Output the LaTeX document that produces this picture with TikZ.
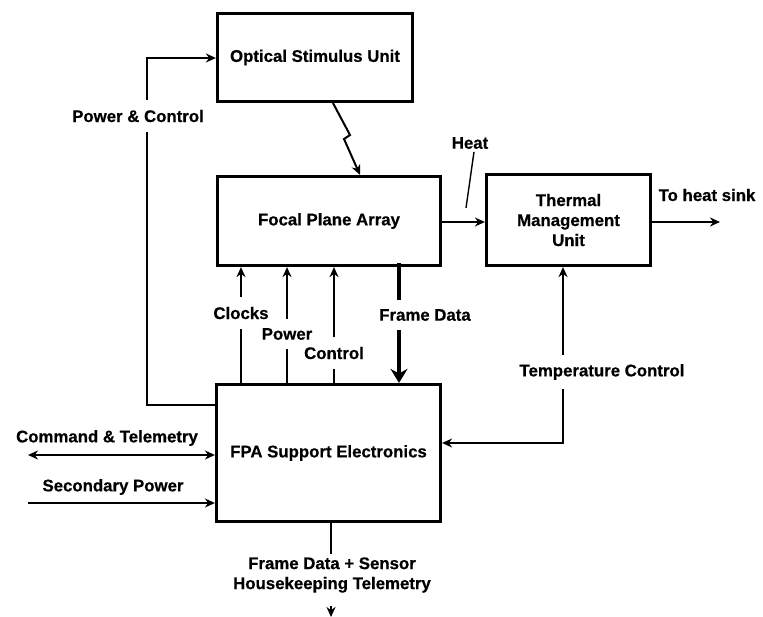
\documentclass[tikz,border=0pt]{standalone}
\usepackage{fontspec}
\setmainfont{Liberation Sans}[BoldFeatures={FakeBold=0.6}]
\usetikzlibrary{arrows.meta, positioning}

\begin{document}
\begin{tikzpicture}[->, >={Stealth[length=10pt,width=9pt]}, x=1pt, y=-1pt, line width=2pt,
    font=\fontsize{16.8}{20}\selectfont\bfseries,
    unit/.style={draw, -, line width=3.2pt, align=center},
    lbl/.style={inner xsep=2pt, inner ysep=8.5pt},
    data/.style={line width=4.5pt, -{Stealth[length=14pt,width=17pt]}}]
    \useasboundingbox (0,0) rectangle (763,617);
    % blocks
    \node[unit, minimum width=195pt, minimum height=88pt] (osu) at (315,57.5) {Optical Stimulus Unit};
    \node[unit, minimum width=223pt, minimum height=89pt] (fpa) at (329,221) {Focal Plane Array};
    \node[unit, minimum width=164pt, minimum height=91pt] (tmu) at (568.5,220) {Thermal\\Management\\Unit};
    \node[unit, minimum width=224pt, minimum height=137pt] (fse) at (328.5,453) {FPA Support Electronics};
    % labels
    \node[lbl] (pc) at (138,116) {Power \& Control};
    \node[lbl] (clk) at (241,313) {Clocks};
    \node[lbl] (pwr) at (287,334) {Power};
    \node[lbl] (ctl) at (334,353) {Control};
    \node[lbl] (fdl) at (425,315) {Frame Data};
    \node[inner sep=2pt] (heat) at (470,143) {Heat};
    \node (hs) at (707,195) {To heat sink};
    \node[lbl] (tcl) at (602,372) {Temperature Control};
    \node (cmdl) at (107,438) {Command \& Telemetry};
    \node (spl) at (113,487) {Secondary Power};
    \node[align=center, inner sep=2pt] (hkl) at (332,575) {Frame Data + Sensor\\Housekeeping Telemetry};
    % free ends
    \coordinate (pc top) at (147,58);
    \coordinate (pc bot) at (147,405);
    \coordinate (zz1) at (350,135);
    \coordinate (zz2) at (344,139);
    \coordinate (fdx) at (399,0);
    \coordinate (heat end) at (466,208);
    \coordinate (sink) at (720,222);
    \coordinate (tc) at (563,443);
    \coordinate (cmd) at (28,455);
    \coordinate (sp) at (28,503);
    \coordinate (hk top) at (331,606);
    \coordinate (out) at (331,617);
    % connectors
    \draw[-] (fse.west |- pc bot) -- (pc bot) -- (pc bot |- pc.south);
    \draw (pc bot |- pc.north) -- (pc top) -- (pc top -| osu.west);
    \draw ([xshift=18pt]osu.south) -- (zz1) -- (zz2) -- ([xshift=31pt]fpa.north);
    \draw[-] (fse.north -| clk) -- (clk.south);
    \draw (clk.north) -- (clk |- fpa.south);
    \draw[-] (fse.north -| pwr) -- (pwr.south);
    \draw (pwr.north) -- (pwr |- fpa.south);
    \draw[-] (fse.north -| ctl) -- (ctl.south);
    \draw (ctl.north) -- (ctl |- fpa.south);
    \draw[data, -] ([yshift=4pt]fpa.south -| fdx) -- (fdl.north -| fdx);
    \draw[data] (fdl.south -| fdx) -- (fse.north -| fdx);
    \draw (fpa.east |- sink) -- (tmu.west |- sink);
    \draw[-, line width=1.4pt] ([xshift=4pt]heat.south) -- (heat end);
    \draw (tmu.east |- sink) -- (sink);
    \draw (tcl.south -| tc) -- (tc) -- (tc -| fse.east);
    \draw (tcl.north -| tc) -- (tc |- tmu.south);
    \draw[<->] (cmd) -- (cmd -| fse.west);
    \draw (sp) -- (sp -| fse.west);
    \draw[-] (fse.south -| out) -- (hkl.north -| out);
    \draw (hk top) -- (out);
\end{tikzpicture}
\end{document}
